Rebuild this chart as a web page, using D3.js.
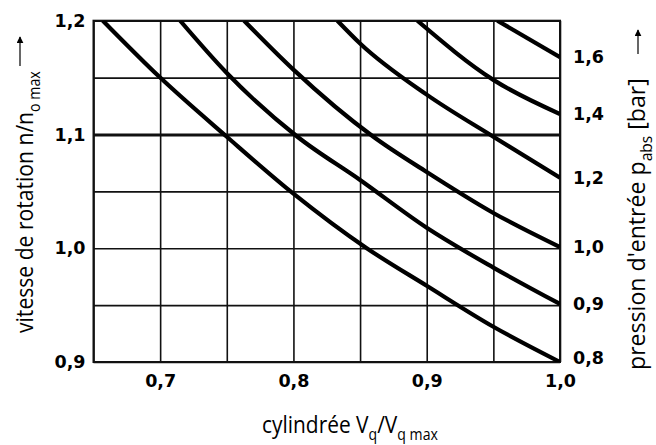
<!DOCTYPE html>
<html>
<head>
<meta charset="utf-8">
<script src="https://cdn.jsdelivr.net/npm/d3@7"></script>
<style>
  html, body { margin: 0; padding: 0; background: #fff; }
  svg { display: block; }
</style>
</head>
<body>
<svg id="chart" width="656" height="445"></svg>
<script>
// Displacement ratio Vg/Vg max (x) versus speed ratio n/n0 max (y),
// one curve per absolute inlet pressure.
const pressures = ["0,8", "0,9", "1,0", "1,2", "1,4", "1,6"];

const curve08 = [[0.657, 1.2], [0.70, 1.15], [0.75, 1.098], [0.80, 1.048], [0.855, 1.0], [0.90, 0.967], [0.95, 0.931], [1.0, 0.90]];
const curve09 = [[0.715, 1.2], [0.75, 1.154], [0.803, 1.098], [0.85, 1.06], [0.90, 1.018], [0.95, 0.983], [1.0, 0.951]];
const curve10 = [[0.763, 1.2], [0.80, 1.157], [0.86, 1.098], [0.90, 1.067], [0.95, 1.031], [1.0, 1.001]];
const curve12 = [[0.833, 1.2], [0.85, 1.18], [0.90, 1.135], [0.95, 1.098], [1.0, 1.062]];
const curve14 = [[0.893, 1.2], [0.95, 1.148], [1.0, 1.118]];
const curve16 = [[0.953, 1.2], [1.0, 1.168]];
const curves = [curve08, curve09, curve10, curve12, curve14, curve16];

const xTicks = [0.7, 0.8, 0.9, 1.0];
const xTickLabels = ["0,7", "0,8", "0,9", "1,0"];
const yTicks = [0.9, 1.0, 1.1, 1.2];
const yTickLabels = ["0,9", "1,0", "1,1", "1,2"];
const xGrid = [0.65, 0.70, 0.75, 0.80, 0.85, 0.90, 0.95, 1.0];
const yGrid = [0.9, 0.95, 1.0, 1.05, 1.1, 1.15, 1.2];

const svg = d3.select("#chart");
const plotLeft = 93.5, plotRight = 560, plotTop = 20.7, plotBottom = 362;

const x = d3.scaleLinear().domain([0.65, 1.0]).range([plotLeft, plotRight]);
const y = d3.scaleLinear().domain([0.9, 1.2]).range([plotBottom, plotTop]);

const tickFont = "'DejaVu Sans', sans-serif";
const titleFont = "'Open Sans', sans-serif";

// grid
const gridX = svg.append("g")
  .attr("transform", `translate(0,${plotBottom})`)
  .call(d3.axisBottom(x).tickValues(xGrid).tickSize(-(plotBottom - plotTop)).tickFormat(""));
gridX.select(".domain").remove();
gridX.selectAll("line").attr("stroke", "#111").attr("stroke-width", 1.6);

const gridY = svg.append("g")
  .attr("transform", `translate(${plotLeft},0)`)
  .call(d3.axisLeft(y).tickValues(yGrid).tickSize(-(plotRight - plotLeft)).tickFormat(""));
gridY.select(".domain").remove();
gridY.selectAll("line")
  .attr("stroke", "#111")
  .attr("stroke-width", d => (Math.abs(d - 1.1) < 1e-9 ? 3 : 1.6));

// frame
svg.append("rect")
  .attr("x", plotLeft).attr("y", plotTop)
  .attr("width", plotRight - plotLeft).attr("height", plotBottom - plotTop)
  .attr("fill", "none").attr("stroke", "#111").attr("stroke-width", 2);

// curves
svg.append("clipPath").attr("id", "plot-clip")
  .append("rect").attr("x", plotLeft).attr("y", plotTop)
  .attr("width", plotRight - plotLeft).attr("height", plotBottom - plotTop);

const line = d3.line()
  .x(d => x(d[0])).y(d => y(d[1]))
  .curve(d3.curveMonotoneX);

svg.append("g").attr("clip-path", "url(#plot-clip)")
  .selectAll("path").data(curves).join("path")
  .attr("d", line)
  .attr("fill", "none")
  .attr("stroke", "#000")
  .attr("stroke-width", 4.2);

// bottom tick labels
const axX = svg.append("g")
  .attr("transform", `translate(0,${plotBottom})`)
  .call(d3.axisBottom(x).tickValues(xTicks).tickSize(0).tickPadding(13)
    .tickFormat((d, i) => xTickLabels[i]));
axX.select(".domain").remove();
axX.selectAll("text")
  .attr("font-family", tickFont).attr("font-weight", "bold")
  .attr("font-size", 17.5).attr("fill", "#000");

// left tick labels
const axY = svg.append("g")
  .attr("transform", `translate(${plotLeft},0)`)
  .call(d3.axisLeft(y).tickValues(yTicks).tickSize(0).tickPadding(8)
    .tickFormat((d, i) => yTickLabels[i]));
axY.select(".domain").remove();
axY.selectAll("text")
  .attr("font-family", tickFont).attr("font-weight", "bold")
  .attr("font-size", 17.5).attr("fill", "#000");

// pressure labels at the curve ends
svg.append("g").selectAll("text").data(curves).join("text")
  .attr("x", plotRight + 13)
  .attr("y", d => Math.min(y(d[d.length - 1][1]), plotBottom - 4))
  .attr("dy", "0.36em")
  .attr("font-family", tickFont).attr("font-weight", "bold")
  .attr("font-size", 17.5).attr("fill", "#000")
  .text((d, i) => pressures[i]);

// arrow head
svg.append("defs").append("marker")
  .attr("id", "arrow-head")
  .attr("viewBox", "0 0 10 10")
  .attr("refX", 9).attr("refY", 5)
  .attr("markerWidth", 7).attr("markerHeight", 7)
  .attr("markerUnits", "userSpaceOnUse")
  .attr("orient", "auto")
  .append("path").attr("d", "M0,0 L10,5 L0,10 Z").attr("fill", "#000");

// axis titles with subscripts, narrowed to a condensed look
function axisTitle(tx, ty, angle, parts, length, anchor, arrow) {
  const size = 23, subSize = 15.5, drop = 7;
  const g = svg.append("g").attr("transform", `translate(${tx},${ty}) rotate(${angle})`);
  const inner = g.append("g");
  const t = inner.append("text")
    .attr("font-family", titleFont).attr("font-size", size).attr("fill", "#000");
  let shift = 0;
  parts.forEach(p => {
    const s = p.sub ? drop : 0;
    t.append("tspan")
      .attr("dy", s - shift)
      .attr("font-size", p.sub ? subSize : size)
      .text(p.text);
    shift = s;
  });
  const len = t.node().getComputedTextLength();
  const sx = length / len;
  const x0 = anchor === "middle" ? -length / 2 : 0;
  inner.attr("transform", `translate(${x0},0) scale(${sx},1)`);
  if (arrow) {
    g.append("line")
      .attr("x1", x0 + length + arrow.gap).attr("y1", -arrow.raise)
      .attr("x2", x0 + length + arrow.gap + arrow.len).attr("y2", -arrow.raise)
      .attr("stroke", "#000").attr("stroke-width", 1.2)
      .attr("marker-end", "url(#arrow-head)");
  }
}

axisTitle(350, 433, 0, [
  { text: "cylindrée V" }, { text: "q", sub: true },
  { text: "/V" }, { text: "q max", sub: true }
], 176, "middle", null);

axisTitle(33, 333, -90, [
  { text: "vitesse de rotation n/n" }, { text: "o max", sub: true }
], 262, "start", { gap: 5, len: 29, raise: 13 });

axisTitle(645, 370, -90, [
  { text: "pression d'entrée p" }, { text: "abs", sub: true },
  { text: " [bar]" }
], 292, "start", { gap: 24, len: 24, raise: 7 });
</script>
</body>
</html>
